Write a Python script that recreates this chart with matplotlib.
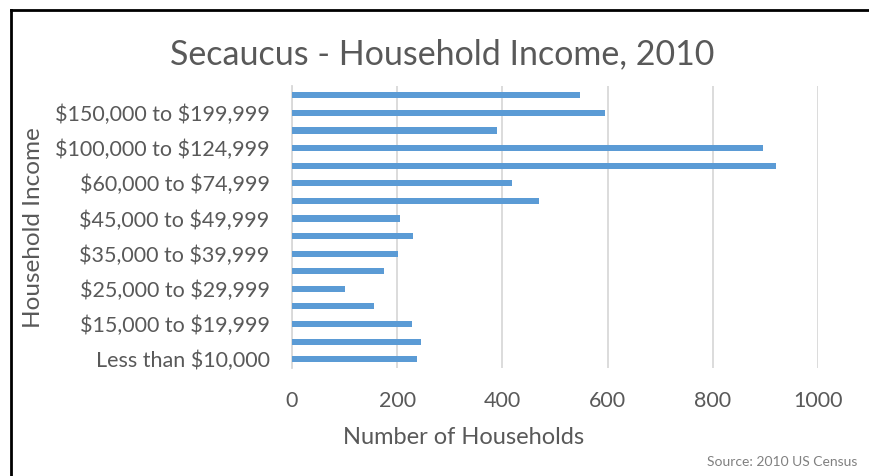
import numpy as np
import matplotlib.pyplot as plt
from matplotlib.lines import Line2D

plt.rcParams['font.family'] = ['Lato', 'DejaVu Sans']
plt.rcParams['text.parse_math'] = False

brackets = ["Less than $10,000", "$10,000 to $14,999", "$15,000 to $19,999",
            "$20,000 to $24,999", "$25,000 to $29,999", "$30,000 to $34,999",
            "$35,000 to $39,999", "$40,000 to $44,999", "$45,000 to $49,999",
            "$50,000 to $59,999", "$60,000 to $74,999", "$75,000 to $99,999",
            "$100,000 to $124,999", "$125,000 to $149,999", "$150,000 to $199,999",
            "$200,000 or more"]
households = [238, 246, 229, 156, 101, 175, 201, 230, 205,
              469, 418, 920, 895, 390, 596, 548]
x_ticks = [0, 200, 400, 600, 800, 1000]

fig = plt.figure(figsize=(8.7, 4.76), dpi=100)
ax = fig.add_axes([0.3356, 0.2269, 0.6046, 0.5914])

ypos = np.arange(len(brackets))
ax.barh(ypos, households, height=0.35, color="#5B9BD5", zorder=3)

ax.set_xlim(0, 1000)
ax.set_ylim(-0.5, len(brackets) - 0.5)
ax.set_xticks(x_ticks)
ax.set_xticklabels([str(t) for t in x_ticks])
# only every other bracket gets a label
ax.set_yticks(ypos[::2])
ax.set_yticklabels(brackets[::2])
ax.tick_params(axis="both", length=0, labelsize=15.5, colors="#595959")
ax.tick_params(axis="y", pad=16)
ax.tick_params(axis="x", pad=16.5)

ax.grid(axis="x", color="#D9D9D9", linewidth=1.3, zorder=0)
for s in ["top", "right", "bottom"]:
    ax.spines[s].set_visible(False)
ax.spines["left"].set_color("#D9D9D9")
ax.spines["left"].set_linewidth(1.3)

fig.text(0.533, 0.081, "Number of Households", fontsize=17, color="#595959",
         ha="center", va="center")
fig.text(0.039, 0.521, "Household Income", rotation=90, fontsize=17.5,
         color="#595959", ha="center", va="center")
fig.text(0.508, 0.886, "Secaucus - Household Income, 2010", fontsize=24.5,
         color="#595959", ha="center", va="center")
fig.text(0.986, 0.029, "Source: 2010 US Census", fontsize=10,
         color="#808080", ha="right", va="center")

# outer frame on the left and top edges
fig.add_artist(Line2D([0.0126, 0.0126], [0, 0.979], transform=fig.transFigure,
                      color="black", linewidth=2))
fig.add_artist(Line2D([0.0126, 1.0], [0.979, 0.979], transform=fig.transFigure,
                      color="black", linewidth=2))

fig.savefig("out.png", dpi=100)
